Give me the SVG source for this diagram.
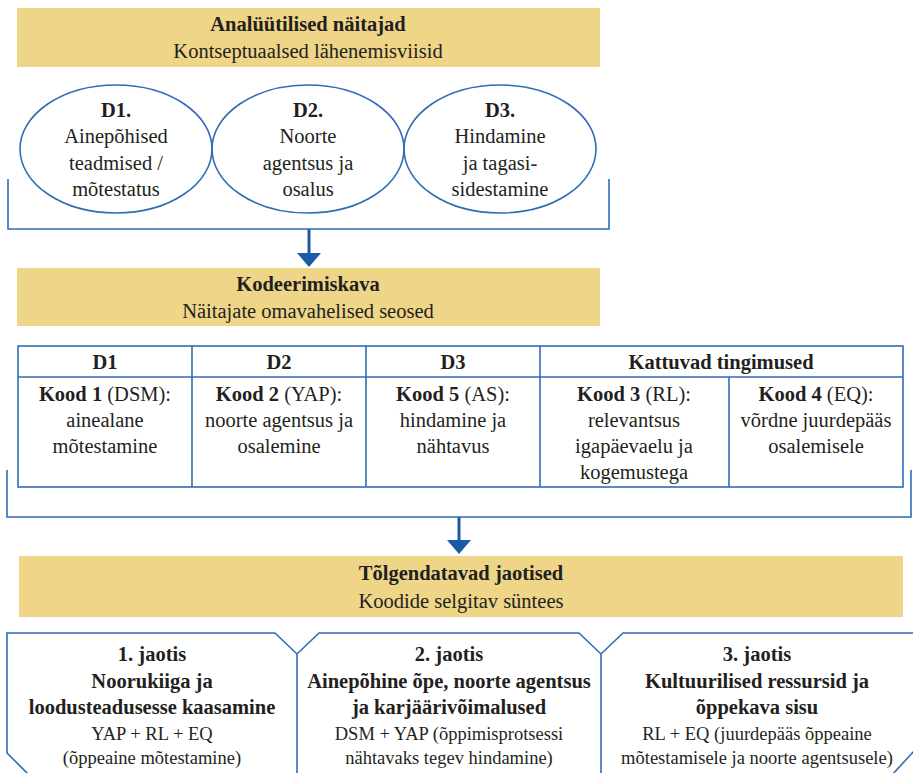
<svg xmlns="http://www.w3.org/2000/svg" width="913" height="773" viewBox="0 0 913 773">
<style>
text{font-family:"Liberation Serif","Times New Roman",serif;fill:#231f20;text-anchor:middle}
.t{font-size:20.5px}
.b{font-weight:bold}
.s{font-size:18.5px}
.banner{fill:#eed587}
.ln{fill:none;stroke:#2e6db4;stroke-width:1.6}
.arr{stroke:#1a5ba8;stroke-width:3;fill:none}
.head{fill:#1a5ba8}
</style>
<rect width="913" height="773" fill="#fff"/>
<g id="banner1">
<rect class="banner" x="17" y="8" width="583" height="59"/>
<text class="t b" x="308" y="31">Analüütilised näitajad</text>
<text class="t" x="308" y="58">Kontseptuaalsed lähenemisviisid</text>
</g>
<g id="d1">
<ellipse class="ln" cx="116" cy="149" rx="96" ry="64"/>
<text class="t b" x="116" y="117">D1.</text>
<text class="t" x="116" y="143">Ainepõhised</text>
<text class="t" x="116" y="170">teadmised /</text>
<text class="t" x="116" y="196">mõtestatus</text>
</g>
<g id="d2">
<ellipse class="ln" cx="308" cy="149" rx="96" ry="64"/>
<text class="t b" x="308" y="117">D2.</text>
<text class="t" x="308" y="143">Noorte</text>
<text class="t" x="308" y="170">agentsus ja</text>
<text class="t" x="308" y="196">osalus</text>
</g>
<g id="d3">
<ellipse class="ln" cx="500" cy="149" rx="96" ry="64"/>
<text class="t b" x="500" y="117">D3.</text>
<text class="t" x="500" y="143">Hindamine</text>
<text class="t" x="500" y="170">ja tagasi-</text>
<text class="t" x="500" y="196">sidestamine</text>
</g>
<g id="banner2">
<rect class="banner" x="17" y="268" width="583" height="58"/>
<text class="t b" x="308" y="291">Kodeerimiskava</text>
<text class="t" x="308" y="318">Näitajate omavahelised seosed</text>
</g>
<g id="table">
<rect class="ln" x="18" y="346" width="885" height="141"/>
<line class="ln" x1="18" y1="377" x2="903" y2="377"/>
<line class="ln" x1="192" y1="346" x2="192" y2="487"/>
<line class="ln" x1="366" y1="346" x2="366" y2="487"/>
<line class="ln" x1="540" y1="346" x2="540" y2="487"/>
<line class="ln" x1="729" y1="377" x2="729" y2="487"/>
<text class="t b" x="105" y="369">D1</text>
<text class="t b" x="279" y="369">D2</text>
<text class="t b" x="453" y="369">D3</text>
<text class="t b" x="721" y="369">Kattuvad tingimused</text>
<text class="t" x="105" y="401"><tspan class="b">Kood 1</tspan> (DSM):</text>
<text class="t" x="105" y="427">ainealane</text>
<text class="t" x="105" y="453">mõtestamine</text>
<text class="t" x="279" y="401"><tspan class="b">Kood 2</tspan> (YAP):</text>
<text class="t" x="279" y="427">noorte agentsus ja</text>
<text class="t" x="279" y="453">osalemine</text>
<text class="t" x="453" y="401"><tspan class="b">Kood 5</tspan> (AS):</text>
<text class="t" x="453" y="427">hindamine ja</text>
<text class="t" x="453" y="453">nähtavus</text>
<text class="t" x="634" y="401"><tspan class="b">Kood 3</tspan> (RL):</text>
<text class="t" x="634" y="427">relevantsus</text>
<text class="t" x="634" y="453">igapäevaelu ja</text>
<text class="t" x="634" y="479">kogemustega</text>
<text class="t" x="816" y="401"><tspan class="b">Kood 4</tspan> (EQ):</text>
<text class="t" x="816" y="427">võrdne juurdepääs</text>
<text class="t" x="816" y="453">osalemisele</text>
</g>
<g id="banner3">
<rect class="banner" x="19" y="556" width="884" height="61"/>
<text class="t b" x="461" y="580">Tõlgendatavad jaotised</text>
<text class="t" x="461" y="608">Koodide selgitav süntees</text>
</g>
<g id="jaotis1">
<path class="ln" d="M297,790 L297,654 L275,633 L7,633 L7,753 L30,776"/>
<text class="t b" x="152" y="661">1. jaotis</text>
<text class="t b" x="152" y="688">Noorukiiga ja</text>
<text class="t b" x="152" y="714">loodusteadusesse kaasamine</text>
<text class="s" x="152" y="740">YAP + RL + EQ</text>
<text class="s" x="152" y="764">(õppeaine mõtestamine)</text>
</g>
<g id="jaotis2">
<path class="ln" d="M297,654 L319,633 L579,633 L601,654 L601,790"/>
<text class="t b" x="449" y="661">2. jaotis</text>
<text class="t b" x="449" y="688">Ainepõhine õpe, noorte agentsus</text>
<text class="t b" x="449" y="714">ja karjäärivõimalused</text>
<text class="s" x="449" y="740">DSM + YAP (õppimisprotsessi</text>
<text class="s" x="449" y="764">nähtavaks tegev hindamine)</text>
</g>
<g id="jaotis3">
<path class="ln" d="M601,654 L623,633 L915,633"/>
<path class="ln" d="M915,750 L891,776"/>
<text class="t b" x="757" y="661">3. jaotis</text>
<text class="t b" x="757" y="688">Kultuurilised ressursid ja</text>
<text class="t b" x="757" y="714">õppekava sisu</text>
<text class="s" x="757" y="740">RL + EQ (juurdepääs õppeaine</text>
<text class="s" x="757" y="764">mõtestamisele ja noorte agentsusele)</text>
</g>
<g id="connectors">
<path class="ln" d="M8,179 L8,229 L609,229 L609,179"/>
<line class="arr" x1="309" y1="229" x2="309" y2="254"/>
<polygon class="head" points="297,253 321,253 309,267"/>
<path class="ln" d="M7,470 L7,517 L911,517 L911,470"/>
<line class="arr" x1="459" y1="517" x2="459" y2="541"/>
<polygon class="head" points="447,540 471,540 459,554"/>
</g>
</svg>
